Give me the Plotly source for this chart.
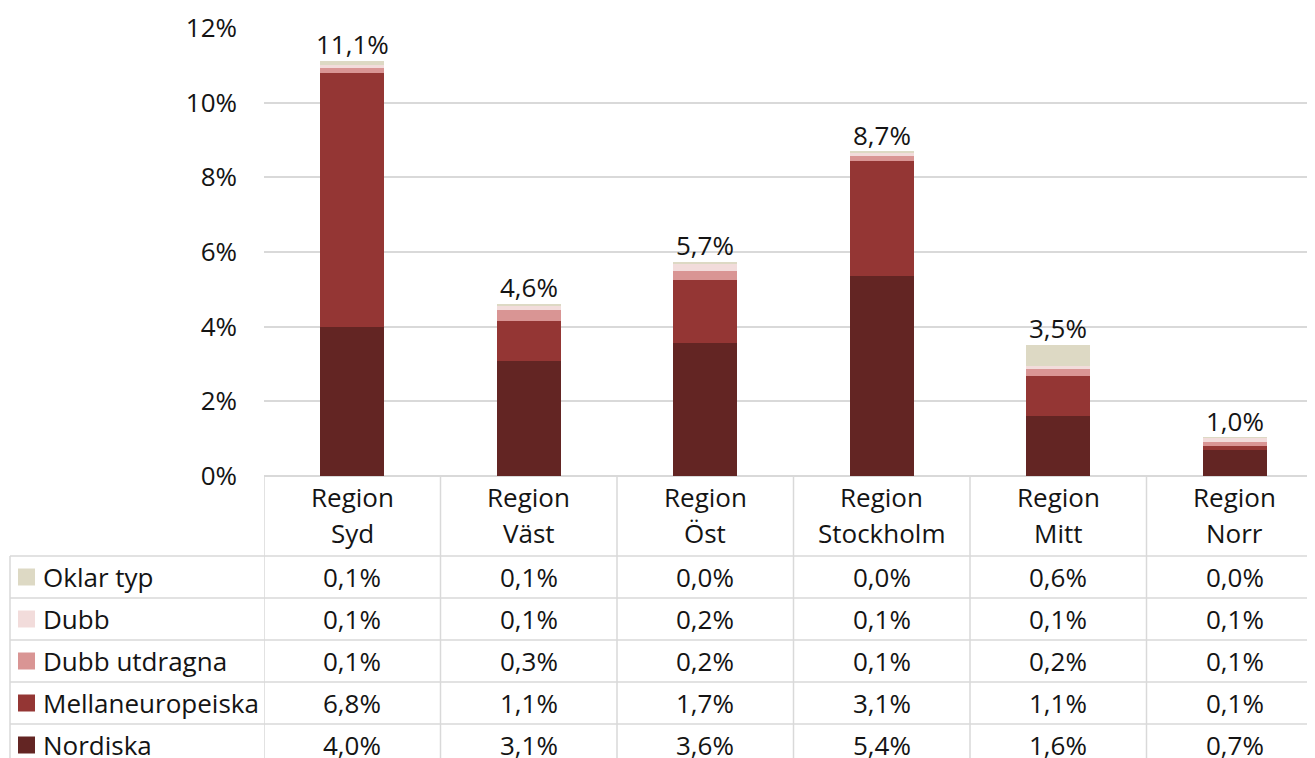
import plotly.graph_objects as go

W, H = 1315, 758
OFF = 8  # sidans marginal runt diagrammet

regions = ["Region Syd", "Region Väst", "Region Öst", "Region Stockholm", "Region Mitt", "Region Norr"]

# andel (%) per typ och region, nerifrån och upp i stapeln
nordiska = [3.98, 3.07, 3.56, 5.36, 1.61, 0.70]
mellaneuropeiska = [6.82, 1.08, 1.70, 3.07, 1.07, 0.10]
dubb_utdragna = [0.12, 0.30, 0.24, 0.13, 0.19, 0.11]
dubb = [0.08, 0.10, 0.20, 0.10, 0.08, 0.11]
oklar_typ = [0.11, 0.06, 0.02, 0.02, 0.56, 0.01]

series = [
    ("Nordiska", nordiska, "#632523"),
    ("Mellaneuropeiska", mellaneuropeiska, "#943634"),
    ("Dubb utdragna", dubb_utdragna, "#D99594"),
    ("Dubb", dubb, "#F2DCDB"),
    ("Oklar typ", oklar_typ, "#DDD9C4"),
]

FONT = "Open Sans, Noto Sans, sans-serif"
FS = 26
TXT = "#141414"
LINE = "#d9d9d9"


def py(y):
    # pixel row on the page -> paper coordinate
    return 1 - (y - OFF) / H


def px(x):
    return (x - OFF) / W


def pct(v):
    return f"{v:.1f}".replace(".", ",") + "%"


fig = go.Figure()
for name, vals, col in series:
    fig.add_trace(go.Bar(x=regions, y=vals, name=name, marker=dict(color=col, line=dict(width=0))))

totals = [sum(v) for v in zip(*[s[1] for s in series])]

ann = []
shapes = []
f = dict(size=FS, color=TXT, family=FONT)

# summa ovanför staplarna
for r, t in zip(regions, totals):
    ann.append(dict(x=r, y=t, xref="x", yref="y", yanchor="bottom", yshift=-3,
                    text=pct(t), showarrow=False, font=f))

# tabellhuvud
for r in regions:
    first, rest = r.split(" ", 1)
    ann.append(dict(x=r, y=py(497), xref="x", yref="paper", yanchor="middle", text=first,
                    showarrow=False, font=f))
    ann.append(dict(x=r, y=py(533), xref="x", yref="paper", yanchor="middle", text=rest,
                    showarrow=False, font=f))

# tabellrader
row_top, row_h = 556, 42
for i, (name, vals, col) in enumerate(reversed(series)):
    yc = row_top + row_h * i + row_h / 2
    shapes.append(dict(type="rect", xref="paper", yref="paper", x0=px(18), x1=px(35),
                       y0=py(yc - 8.5), y1=py(yc + 8.5), fillcolor=col, line=dict(width=0)))
    ann.append(dict(x=px(41), y=py(yc), xref="paper", yref="paper", xanchor="left", yanchor="middle",
                    text=name, showarrow=False, font=f))
    for r, v in zip(regions, vals):
        ann.append(dict(x=r, y=py(yc), xref="x", yref="paper", yanchor="middle", text=pct(v),
                        showarrow=False, font=f))

# linjer
for k in range(6):
    y = row_top + row_h * k
    shapes.append(dict(type="line", xref="paper", yref="paper", x0=px(10), x1=1, y0=py(y), y1=py(y),
                       line=dict(color=LINE, width=1.5)))
shapes.append(dict(type="line", xref="paper", yref="paper", x0=px(10), x1=px(10), y0=py(row_top), y1=0,
                   line=dict(color=LINE, width=1.5)))
for k in range(len(regions)):
    shapes.append(dict(type="line", xref="x", yref="paper", x0=k - 0.5, x1=k - 0.5, y0=py(476), y1=0,
                       line=dict(color=LINE, width=1.5)))

fig.update_layout(
    width=W, height=H,
    barmode="stack", bargap=0.635,
    plot_bgcolor="white", paper_bgcolor="white",
    margin=dict(l=0, r=0, t=0, b=0, pad=0, autoexpand=False),
    showlegend=False,
    font=f,
    xaxis=dict(domain=[px(264), 1], range=[-0.5, 5.5], showticklabels=False, showgrid=False,
               showline=False, zeroline=False, automargin=False),
    yaxis=dict(domain=[py(476), py(28)], range=[0, 12], dtick=2, ticksuffix="%",
               showgrid=True, gridcolor=LINE, gridwidth=1.5, zeroline=True, zerolinecolor=LINE,
               zerolinewidth=1.5, showline=False, ticklabelstandoff=26, automargin=False,
               tickfont=f),
    annotations=ann,
    shapes=shapes,
)

fig.write_html("out.html")
